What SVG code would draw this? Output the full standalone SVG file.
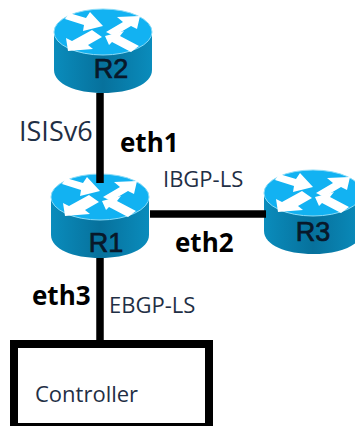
<svg xmlns="http://www.w3.org/2000/svg" width="355" height="426" viewBox="0 0 355 426">
<style>
.side{fill:url(#sideGrad)}
.top{fill:#12b2f2;stroke:#8adcf8;stroke-width:1}
.arrow{fill:#fff}
.link{stroke:#000;stroke-width:7.500;fill:none}
.name{font-family:"Liberation Sans",Arial,sans-serif;font-size:27px;fill:#08182a;text-anchor:middle;stroke:#08182a;stroke-width:.7}
.eth{font-family:"Open Sans","Liberation Sans",sans-serif;font-weight:700;font-size:26px;fill:#000}
.lab{font-family:"Open Sans","Liberation Sans",sans-serif;font-size:22px;fill:#1f2f45}
</style>
<defs>
<linearGradient id="sideGrad" x1="0" x2="1" y1="0" y2="0">
<stop offset="0" stop-color="#0a8cbc"/><stop offset=".5" stop-color="#07719c"/><stop offset="1" stop-color="#0a8cbc"/>
</linearGradient>
<g id="router">
<path class="side" d="M-49 0V38C-49 52-27 61 0 61S49 52 49 38V0Z"/>
<ellipse class="top" cx="0" cy="0" rx="49" ry="23"/>
<polygon class="arrow" points="-34,-19 -17,-14 -13,-20 0,-6 -20,-1 -19,-7 -38,-13"/>
<polygon class="arrow" points="3,0 20,-10 14,-15 37,-16 34,-3 28,-6 11,4"/>
<polygon class="arrow" points="-1,5 -15,13 -10,17 -35,19 -37,6 -31,9 -11,-2"/>
<polygon class="arrow" points="2,4 21,-1 17,4 36,14 28,20 9,10 6,13"/>
</g>
</defs>
<g id="R2">
<use href="#router" x="103" y="32"/>
<text class="name" x="111" y="78">R2</text>
</g>
<g id="R1">
<use href="#router" x="100" y="197"/>
<text class="name" x="106" y="252">R1</text>
</g>
<g id="R3">
<use href="#router" x="313" y="193"/>
<text class="name" x="313" y="241">R3</text>
</g>
<g id="connectors">
<line class="link" x1="100" y1="93" x2="100" y2="183"/>
<line class="link" x1="150" y1="214" x2="266" y2="214"/>
<line class="link" x1="100" y1="258" x2="100" y2="342"/>
</g>
<g id="Controller">
<rect x="14" y="344" width="195" height="83" fill="#fff" stroke="#000" stroke-width="8"/>
<text class="lab" x="35" y="402">Controller</text>
</g>
<g id="labels">
<text class="lab" x="19" y="141" style="font-size:27px">ISISv6</text>
<text class="eth" x="120" y="152">eth1</text>
<text class="lab" x="163" y="187">IBGP-LS</text>
<text class="eth" x="175" y="252">eth2</text>
<text class="eth" x="32" y="305">eth3</text>
<text class="lab" x="109" y="313">EBGP-LS</text>
</g>
</svg>
